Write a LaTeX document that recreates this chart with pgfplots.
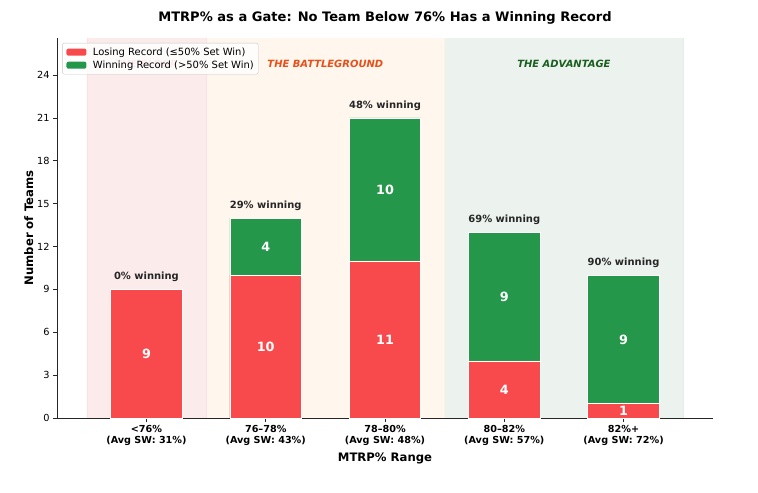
\documentclass[border=0pt]{standalone}
\usepackage{pgfplots}
\pgfplotsset{compat=1.18}
\usepackage{fontspec}
\setmainfont{DejaVu Sans}
\definecolor{lose}{HTML}{F84A4C}
\definecolor{win}{HTML}{24974A}
\definecolor{zfloor}{HTML}{FBEBEB}
\definecolor{zbattle}{HTML}{FFF6EE}
\definecolor{zadv}{HTML}{ECF3EE}
\definecolor{tbattle}{HTML}{E8501A}
\definecolor{tadv}{HTML}{1B5E20}
\definecolor{tfloor}{HTML}{C83C3C}
\begin{document}
\begin{tikzpicture}
\begin{axis}[
  name=ax,
  scale only axis, width=656bp, height=380bp,
  xmin=-0.75, xmax=4.75, ymin=0, ymax=26.6,
  axis x line*=bottom, axis y line*=left,
  axis line style={-, black!85, line width=0.9pt},
  tick style={black!85, line width=0.8pt},
  tick align=outside, major tick length=4bp,
  ytick={0,3,...,24},
  xtick={0,1,2,3,4},
  xticklabels={{<76\%\\(Avg SW: 31\%)},{76--78\%\\(Avg SW: 43\%)},{78--80\%\\(Avg SW: 48\%)},{80--82\%\\(Avg SW: 57\%)},{82\%+\\(Avg SW: 72\%)}},
  xticklabel style={align=center, font=\bfseries\fontsize{9.7}{11.2}\selectfont},
  yticklabel style={font=\fontsize{9.8}{12}\selectfont},
  /pgf/number format/assume math mode=true,
  xlabel={\bfseries MTRP\% Range},
  ylabel={\bfseries Number of Teams},
  xlabel style={font=\fontsize{11.7}{14}\selectfont},
  ylabel style={font=\fontsize{11.7}{14}\selectfont},
  ylabel shift=-3bp,
  legend style={at={(0.008,0.987)}, anchor=north west, draw=black!22, rounded corners=2pt,
    fill=white, fill opacity=0.8, text opacity=1, font=\fontsize{10}{12.8}\selectfont,
    inner sep=2.5pt},
  legend cell align=left,
  clip=false,
]
\fill[zfloor] (axis cs:-0.5,0) rectangle (axis cs:0.5,26.6);
\fill[zbattle] (axis cs:0.5,0) rectangle (axis cs:2.5,26.6);
\fill[zadv] (axis cs:2.5,0) rectangle (axis cs:4.5,26.6);
\draw[red!12!white, line width=0.6pt] (axis cs:-0.5,0) -- (axis cs:-0.5,26.6) (axis cs:0.5,0) -- (axis cs:0.5,26.6);
\draw[orange!10!white, line width=0.6pt] (axis cs:2.5,0) -- (axis cs:2.5,26.6);
\draw[green!20!black!10!white, line width=0.4pt] (axis cs:4.5,0) -- (axis cs:4.5,26.6);
\node[font=\bfseries\itshape\fontsize{10}{12}\selectfont, text=tfloor!40!zfloor] at (axis cs:0,24.8) {THE FLOOR};
\node[font=\bfseries\itshape\fontsize{10}{12}\selectfont, text=tbattle] at (axis cs:1.5,24.8) {THE BATTLEGROUND};
\node[font=\bfseries\itshape\fontsize{10}{12}\selectfont, text=tadv] at (axis cs:3.5,24.8) {THE ADVANTAGE};

\addlegendimage{legend image code/.code={\fill[lose, draw=none, fill opacity=1] (1.5bp,-3.5bp) rectangle (21.5bp,3.5bp); \path[draw=none, fill=none] (0bp,0bp) -- (26bp,0bp);}}
\addlegendentry{Losing Record (≤50\% Set Win)}
\addlegendimage{legend image code/.code={\fill[win, draw=none, fill opacity=1] (1.5bp,-3.5bp) rectangle (21.5bp,3.5bp); \path[draw=none, fill=none] (0bp,0bp) -- (26bp,0bp);}}
\addlegendentry{Winning Record (>50\% Set Win)}

% total height (green = winning part on top), then losing part drawn over it
\addplot[ybar, bar width=0.6, bar shift=0pt, fill=win, draw=white, line width=0.6pt, forget plot]
  coordinates {(1,14) (2,21) (3,13) (4,10)};
\addplot[ybar, bar width=0.6, bar shift=0pt, fill=lose, draw=white, line width=0.6pt, forget plot]
  coordinates {(0,9) (1,10) (2,11) (3,4) (4,1)};

\begin{scope}[every node/.style={font=\bfseries\fontsize{12.8}{15}\selectfont, text=white}]
\node at (axis cs:0,4.5) {9};
\node at (axis cs:1,5) {10};
\node at (axis cs:2,5.5) {11};
\node at (axis cs:3,2) {4};
\node at (axis cs:4,0.5) {1};
\node at (axis cs:1,12) {4};
\node at (axis cs:2,16) {10};
\node at (axis cs:3,8.5) {9};
\node at (axis cs:4,5.5) {9};
\end{scope}
\begin{scope}[every node/.style={font=\bfseries\fontsize{10}{12}\selectfont, text=black!85}]
\node at (axis cs:0,9.85) {0\% winning};
\node at (axis cs:1,14.85) {29\% winning};
\node at (axis cs:2,21.85) {48\% winning};
\node at (axis cs:3,13.85) {69\% winning};
\node at (axis cs:4,10.85) {90\% winning};
\end{scope}
\end{axis}
\node[font=\bfseries\fontsize{13.1}{16}\selectfont] at ([yshift=20bp]ax.north) {MTRP\% as a Gate: No Team Below 76\% Has a Winning Record};
\pgfresetboundingbox
\path ([shift={(-57bp,-74bp)}]ax.south west) rectangle ([shift={(45bp,38bp)}]ax.north east);
\end{tikzpicture}
\end{document}
